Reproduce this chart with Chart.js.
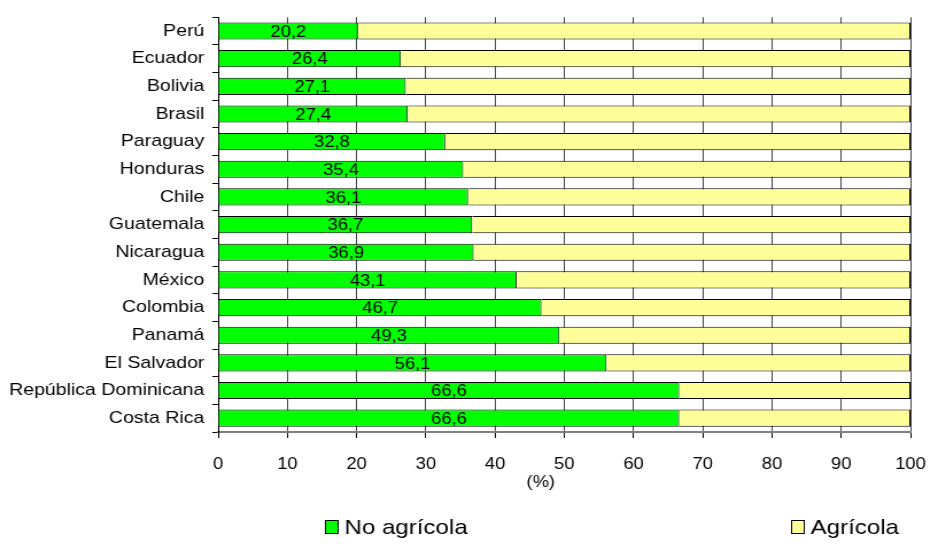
<!DOCTYPE html>
<html>
<head>
<meta charset="utf-8">
<script src="https://cdn.jsdelivr.net/npm/chart.js@4/dist/chart.umd.min.js"></script>
<style>
  html, body { margin: 0; padding: 0; background: #fff; overflow: hidden; }
  /* the original picture is stretched sideways, so draw narrower and widen it */
  #wrap { width: 810px; height: 544px; transform-origin: 0 0; transform: scaleX(1.1481); }
</style>
</head>
<body>
<div id="wrap"><canvas id="chart" width="810" height="544"></canvas></div>
<script>
// data
const countries = ['Perú', 'Ecuador', 'Bolivia', 'Brasil', 'Paraguay', 'Honduras', 'Chile',
  'Guatemala', 'Nicaragua', 'México', 'Colombia', 'Panamá', 'El Salvador',
  'República Dominicana', 'Costa Rica'];
const noAgricola = [20.2, 26.4, 27.1, 27.4, 32.8, 35.4, 36.1, 36.7, 36.9, 43.1, 46.7, 49.3, 56.1, 66.6, 66.6];
const agricola = noAgricola.map(v => +(100 - v).toFixed(1));
const seriesNames = ['No agrícola', 'Agrícola'];
const xTicks = [0, 10, 20, 30, 40, 50, 60, 70, 80, 90, 100];
const axisTitle = '(%)';

const font = 'Arial, "Liberation Sans", sans-serif';

// values written inside the green bars
const barLabels = {
    id: 'barLabels',
    afterDatasetsDraw(chart) {
        const ctx = chart.ctx;
        const meta = chart.getDatasetMeta(0);
        ctx.save();
        ctx.fillStyle = '#000';
        ctx.font = '17px ' + font;
        ctx.textAlign = 'center';
        ctx.textBaseline = 'middle';
        meta.data.forEach((bar, i) => {
            const cx = (bar.x + bar.base) / 2;
            ctx.save();
            ctx.translate(cx, bar.y + 1);
            ctx.scale(0.94, 1);
            ctx.fillText(noAgricola[i].toFixed(1).replace('.', ','), 0, 0);
            ctx.restore();
        });
        ctx.restore();
    }
};

// legend spread out at the bottom, and the axis title sitting left of centre, like the original
const extras = {
    id: 'extras',
    afterDraw(chart) {
        const ctx = chart.ctx;
        const spots = [283, 689];
        ctx.save();
        ctx.font = '21px ' + font;
        ctx.textBaseline = 'middle';
        chart.data.datasets.forEach((ds, i) => {
            const x = spots[i];
            const y = 527;
            ctx.fillStyle = ds.backgroundColor;
            ctx.fillRect(x, y - 7, 12, 14);
            ctx.strokeStyle = '#000';
            ctx.lineWidth = 1;
            ctx.strokeRect(x + 0.5, y - 6.5, 11, 13);
            ctx.fillStyle = '#000';
            ctx.fillText(ds.label, x + 17, y + 1);
        });
        ctx.font = '16px ' + font;
        ctx.textAlign = 'center';
        ctx.fillText(axisTitle, 471, 483);
        ctx.restore();
    }
};

new Chart(document.getElementById('chart'), {
    type: 'bar',
    data: {
        labels: countries,
        datasets: [{
            label: seriesNames[0],
            data: noAgricola,
            backgroundColor: '#00FF00',
            borderColor: '#000000',
            borderWidth: 1,
            barPercentage: 0.62,
            categoryPercentage: 1
        }, {
            label: seriesNames[1],
            data: agricola,
            backgroundColor: '#FFFF99',
            borderColor: '#000000',
            borderWidth: 1,
            barPercentage: 0.62,
            categoryPercentage: 1
        }]
    },
    options: {
        indexAxis: 'y',
        responsive: false,
        animation: false,
        layout: { padding: { left: 0, right: 17, top: 14, bottom: 46 } },
        plugins: {
            legend: { display: false },
            tooltip: { enabled: false }
        },
        scales: {
            x: {
                stacked: true,
                min: 0,
                max: 100,
                afterBuildTicks(scale) {
                    scale.ticks = xTicks.map(v => ({ value: v }));
                },
                afterFit(scale) {
                    scale.height = 66;
                    scale.paddingLeft = 0;
                    scale.paddingRight = 0;
                },
                border: { color: '#808080', width: 2 },
                grid: {
                    color: '#444444',
                    lineWidth: 1,
                    tickLength: 6,
                    tickColor: '#000'
                },
                ticks: {
                    color: '#000',
                    font: { family: font, size: 16 },
                    padding: 17,
                    maxRotation: 0
                }
            },
            y: {
                stacked: true,
                afterFit(scale) { scale.width = 190; },
                border: { color: '#000', width: 1 },
                grid: {
                    drawOnChartArea: false,
                    tickLength: 5,
                    tickColor: '#000'
                },
                ticks: {
                    color: '#000',
                    font: { family: font, size: 17 },
                    padding: 7,
                    autoSkip: false
                }
            }
        }
    },
    plugins: [barLabels, extras]
});
</script>
</body>
</html>
